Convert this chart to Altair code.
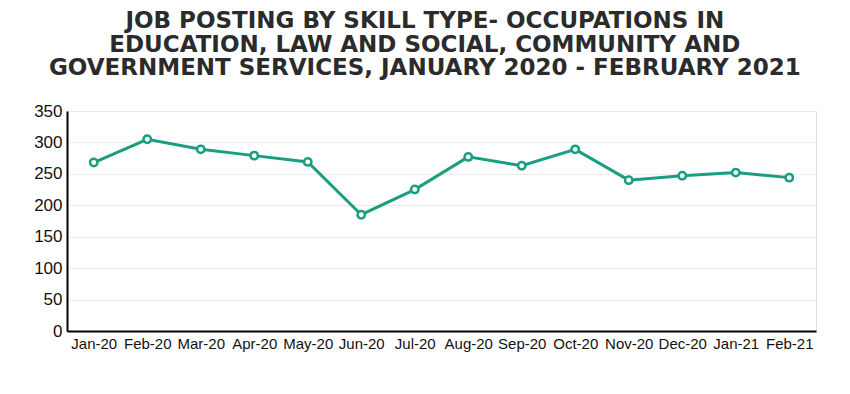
import altair as alt
import pandas as pd

months = ["Jan-20", "Feb-20", "Mar-20", "Apr-20", "May-20", "Jun-20", "Jul-20",
          "Aug-20", "Sep-20", "Oct-20", "Nov-20", "Dec-20", "Jan-21", "Feb-21"]
postings = [268, 305, 289, 279, 269, 185, 225, 277, 263, 289, 240, 247, 252, 244]
y_ticks = [0, 50, 100, 150, 200, 250, 300, 350]

df = pd.DataFrame({"month": months, "postings": postings})

COLOR = "#1b9e7f"

base = alt.Chart(df).encode(
    x=alt.X("month:N", sort=months, title=None,
            scale=alt.Scale(paddingInner=0, paddingOuter=0.5),
            axis=alt.Axis(labelAngle=0, labelFont="Liberation Sans", labelFontSize=15,
                          labelColor="#111111", domainColor="#000000", domainWidth=2,
                          ticks=False, labelPadding=5, grid=False)),
    y=alt.Y("postings:Q", title=None,
            scale=alt.Scale(domain=[0, 350], nice=False),
            axis=alt.Axis(values=y_ticks, labelFont="Liberation Sans", labelFontSize=17,
                          labelColor="#111111", domainColor="#000000", domainWidth=2,
                          ticks=False, labelPadding=5, gridColor="#ececec",
                          gridWidth=1)),
)

line = base.mark_line(color=COLOR, strokeWidth=3)
pts = base.mark_point(shape="circle", filled=True, fill="white", stroke=COLOR,
                      strokeWidth=2.5, size=55, opacity=1)

chart = (line + pts).properties(
    width=749,
    height=220,
    padding={"left": 59, "top": 103, "right": 26, "bottom": 40},
    autosize=alt.AutoSizeParams(type="none"),
    title=alt.TitleParams(
        text=["JOB POSTING BY SKILL TYPE- OCCUPATIONS IN",
              "EDUCATION, LAW AND SOCIAL, COMMUNITY AND",
              "GOVERNMENT SERVICES, JANUARY 2020 - FEBRUARY 2021"],
        font="DejaVu Sans", fontSize=23, fontWeight="bold", color="#2b2b2b",
        lineHeight=23.5, anchor="middle", frame="bounds", offset=22),
).configure_view(stroke=None).configure(background="white")

chart.save("out.html", embed_options={"renderer": "svg", "actions": False})
